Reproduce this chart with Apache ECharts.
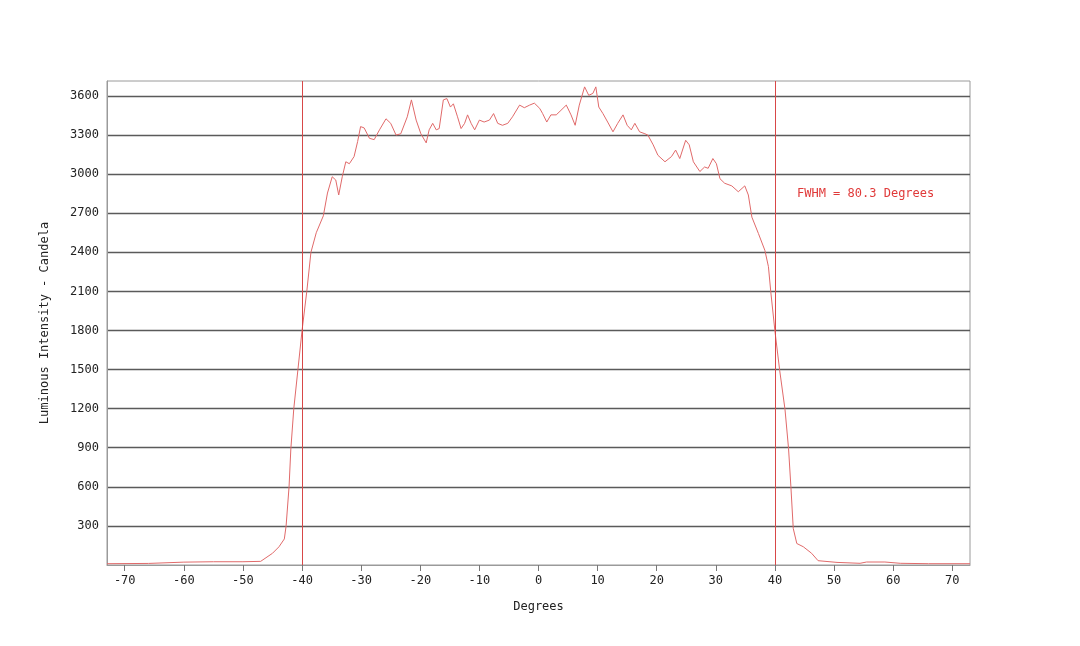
<!DOCTYPE html>
<html>
<head>
<meta charset="utf-8">
<script src="https://cdn.jsdelivr.net/npm/echarts@6/dist/echarts.min.js"></script>
<style>
  html, body { margin: 0; padding: 0; background: #fff; }
  #main { width: 1080px; height: 646px; }
</style>
</head>
<body>
<div id="main"></div>
<script>
// angle (degrees) and luminous intensity (candela)
var degrees = [
  -73, -66, -60, -55, -50, -47, -45, -43.9, -43, -42.7, -42.2, -41.9, -41.4, -40.7, -40,
  -39.2, -38.5, -37.6, -36.4, -35.7, -34.9, -34.3, -33.8, -33.2, -32.6, -32.0, -31.2, -30.6,
  -30.1, -29.5, -28.6, -27.8, -26.9, -25.8, -25.0, -24.1, -23.3, -22.2, -21.5, -20.7, -19.9,
  -19.0, -18.5, -17.9, -17.3, -16.8, -16.1, -15.5, -14.9, -14.4, -13.7, -13.1, -12.5, -12.0,
  -11.4, -10.8, -10.0, -9.2, -8.3, -7.6, -6.9, -6.1, -5.2, -4.4, -3.2, -2.4, -1.5, -0.7,
  0.2, 0.7, 1.4, 2.1, 3.0, 3.8, 4.7, 5.5, 6.2, 6.9, 7.8, 8.5, 9.2, 9.7, 10.2, 10.9, 11.7,
  12.6, 13.4, 14.3, 15.0, 15.7, 16.3, 17.1, 18.0, 18.5, 19.4, 20.2, 21.4, 22.5, 23.2, 23.9,
  24.9, 25.5, 26.2, 27.3, 28.1, 28.7, 29.5, 30.1, 30.7, 31.5, 32.7, 33.8, 34.9, 35.5, 36.1,
  37.2, 38.3, 38.9, 39.3, 40.0, 40.8, 41.7, 42.3, 42.7, 43.1, 43.7, 44.8, 46.2, 47.3, 50.5,
  54.4, 55.5, 58.6, 61.2, 66, 73
];
var candela = [
  10, 12, 22, 25, 25, 28, 90, 140, 200, 300, 600, 890, 1200, 1500, 1800,
  2100, 2400, 2550, 2680, 2855, 2980, 2955, 2840, 2980, 3095, 3080, 3135, 3250,
  3365, 3355, 3275, 3265, 3340, 3425, 3390, 3300, 3310, 3440, 3570, 3415, 3310,
  3240, 3340, 3390, 3340, 3350, 3570, 3580, 3515, 3540, 3440, 3350, 3390, 3455,
  3390, 3340, 3415, 3400, 3415, 3465, 3390, 3375, 3390, 3440, 3530, 3510, 3530, 3545,
  3505, 3465, 3400, 3455, 3455, 3490, 3530, 3455, 3375, 3530, 3670, 3605, 3620, 3670, 3515, 3465, 3400,
  3325, 3390, 3455, 3375, 3340, 3390, 3325, 3310, 3300, 3225, 3145, 3095, 3135, 3185, 3120,
  3260, 3225, 3095, 3020, 3055, 3045, 3120, 3080, 2965, 2930, 2910, 2865, 2910, 2840, 2670,
  2545, 2415, 2290, 2095, 1795, 1495, 1195, 895, 600, 280, 165, 140, 90, 33, 20,
  13, 23, 23, 13, 10, 10
];
var xTicks = [-70, -60, -50, -40, -30, -20, -10, 0, 10, 20, 30, 40, 50, 60, 70];
var fwhmLines = [-40, 40];
var fwhmText = 'FWHM = 80.3 Degrees';

var mono = '"DejaVu Sans Mono", monospace';
var chart = echarts.init(document.getElementById('main'));

var points = [];
for (var i = 0; i < degrees.length; i++) {
  points.push([degrees[i], candela[i]]);
}

chart.setOption({
  backgroundColor: '#ffffff',
  animation: false,
  grid: { left: 107, right: 110, top: 81, bottom: 81, show: true, borderColor: '#9a9a9a', borderWidth: 1 },
  xAxis: {
    type: 'value',
    min: -73,
    max: 73,
    name: 'Degrees',
    nameLocation: 'middle',
    nameGap: 36,
    nameTextStyle: { fontFamily: mono, fontSize: 12, color: '#222' },
    axisLine: { onZero: false, lineStyle: { color: '#9a9a9a', width: 1 } },
    axisTick: { show: true, length: 6, customValues: xTicks, lineStyle: { color: '#777' } },
    axisLabel: { customValues: xTicks, fontFamily: mono, fontSize: 12, color: '#222', margin: 10 },
    splitLine: { show: false }
  },
  yAxis: {
    type: 'value',
    min: 0,
    max: 3715,
    interval: 300,
    name: 'Luminous Intensity - Candela',
    nameLocation: 'middle',
    nameGap: 56,
    nameTextStyle: { fontFamily: mono, fontSize: 12, color: '#222' },
    axisLine: { show: true, onZero: false, lineStyle: { color: '#9a9a9a', width: 1 } },
    axisTick: { show: false },
    axisLabel: {
      fontFamily: mono, fontSize: 12, color: '#222', margin: 8,
      showMinLabel: false, showMaxLabel: false,
      formatter: function (v) { return String(v); }
    },
    splitLine: { show: true, showMinLine: false, showMaxLine: false, lineStyle: { color: '#5a5a5a', width: 1.3 } }
  },
  series: [{
    type: 'line',
    data: points,
    showSymbol: false,
    smooth: false,
    lineStyle: { color: '#e06a6a', width: 1 },
    markLine: {
      silent: true,
      symbol: 'none',
      label: { show: false },
      lineStyle: { color: '#d84848', width: 1, type: 'solid' },
      data: fwhmLines.map(function (v) { return { xAxis: v }; })
    }
  }],
  graphic: [{
    type: 'text',
    left: 797,
    top: 188,
    style: { text: fwhmText, font: '12px ' + mono, fill: '#e03a3a' }
  }]
});
</script>
</body>
</html>
